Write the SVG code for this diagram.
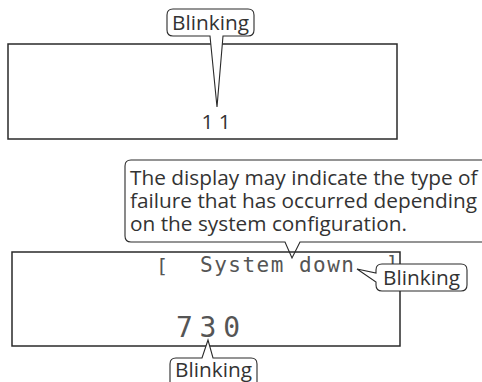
<svg xmlns="http://www.w3.org/2000/svg" width="482" height="382" viewBox="0 0 482 382">
<style>
.box{fill:#fff;stroke:#2a2a2a;stroke-width:1.5}
.co{fill:#fff;stroke:#2a2a2a;stroke-width:1.1;stroke-linejoin:miter}
.lbl{font-family:"Open Sans","Noto Sans",sans-serif;font-size:20.8px;fill:#333}
.lcd{font-family:"DejaVu Sans Mono","Liberation Mono",monospace;fill:#555}
</style>
<g id="display1">
<rect class="box" x="8" y="44" width="389" height="95"/>
<text class="lbl" x="216" y="129" font-size="25" text-anchor="middle">1 1</text>
</g>
<g id="display2">
<rect class="box" x="12" y="252" width="388" height="94"/>
<text class="lcd" x="156" y="273" font-size="20">[</text>
<text class="lcd" x="200" y="272" font-size="21" textLength="154" lengthAdjust="spacing">System down</text>
<text class="lcd" x="386" y="270" font-size="20">]</text>
<text class="lcd" x="176" y="337" font-size="28" textLength="64" lengthAdjust="spacing">730</text>
</g>
<g id="connectors">
<path d="M482 160 H131 Q125 160 125 166 V236 Q125 242 131 242 H285 L292 258 L300 242 H482" fill="none" stroke="#2a2a2a" stroke-width="1.1"/>
</g>
<g id="note">
<text class="lbl" x="130" y="185">The display may indicate the type of</text>
<text class="lbl" x="130" y="208">failure that has occurred depending</text>
<text class="lbl" x="130" y="231">on the system configuration.</text>
</g>
<g id="blink1">
<path class="co" d="M173 9 H248 Q254 9 254 15 V30 Q254 36 248 36 H223 L217 107 L210 36 H173 Q167 36 167 30 V15 Q167 9 173 9 Z"/>
<text class="lbl" x="210.5" y="30" text-anchor="middle">Blinking</text>
</g>
<g id="blink2">
<path class="co" d="M382 264 H461 Q467 264 467 270 V285 Q467 291 461 291 H382 Q376 291 376 285 V282 L357 269 L376 273 V270 Q376 264 382 264 Z"/>
<text class="lbl" x="421.5" y="285" text-anchor="middle">Blinking</text>
</g>
<g id="blink3">
<path class="co" d="M176 358 H202 L208 340 L213 358 H251 Q257 358 257 364 V392 H170 V364 Q170 358 176 358 Z"/>
<text class="lbl" x="213.5" y="377" text-anchor="middle">Blinking</text>
</g>
</svg>
